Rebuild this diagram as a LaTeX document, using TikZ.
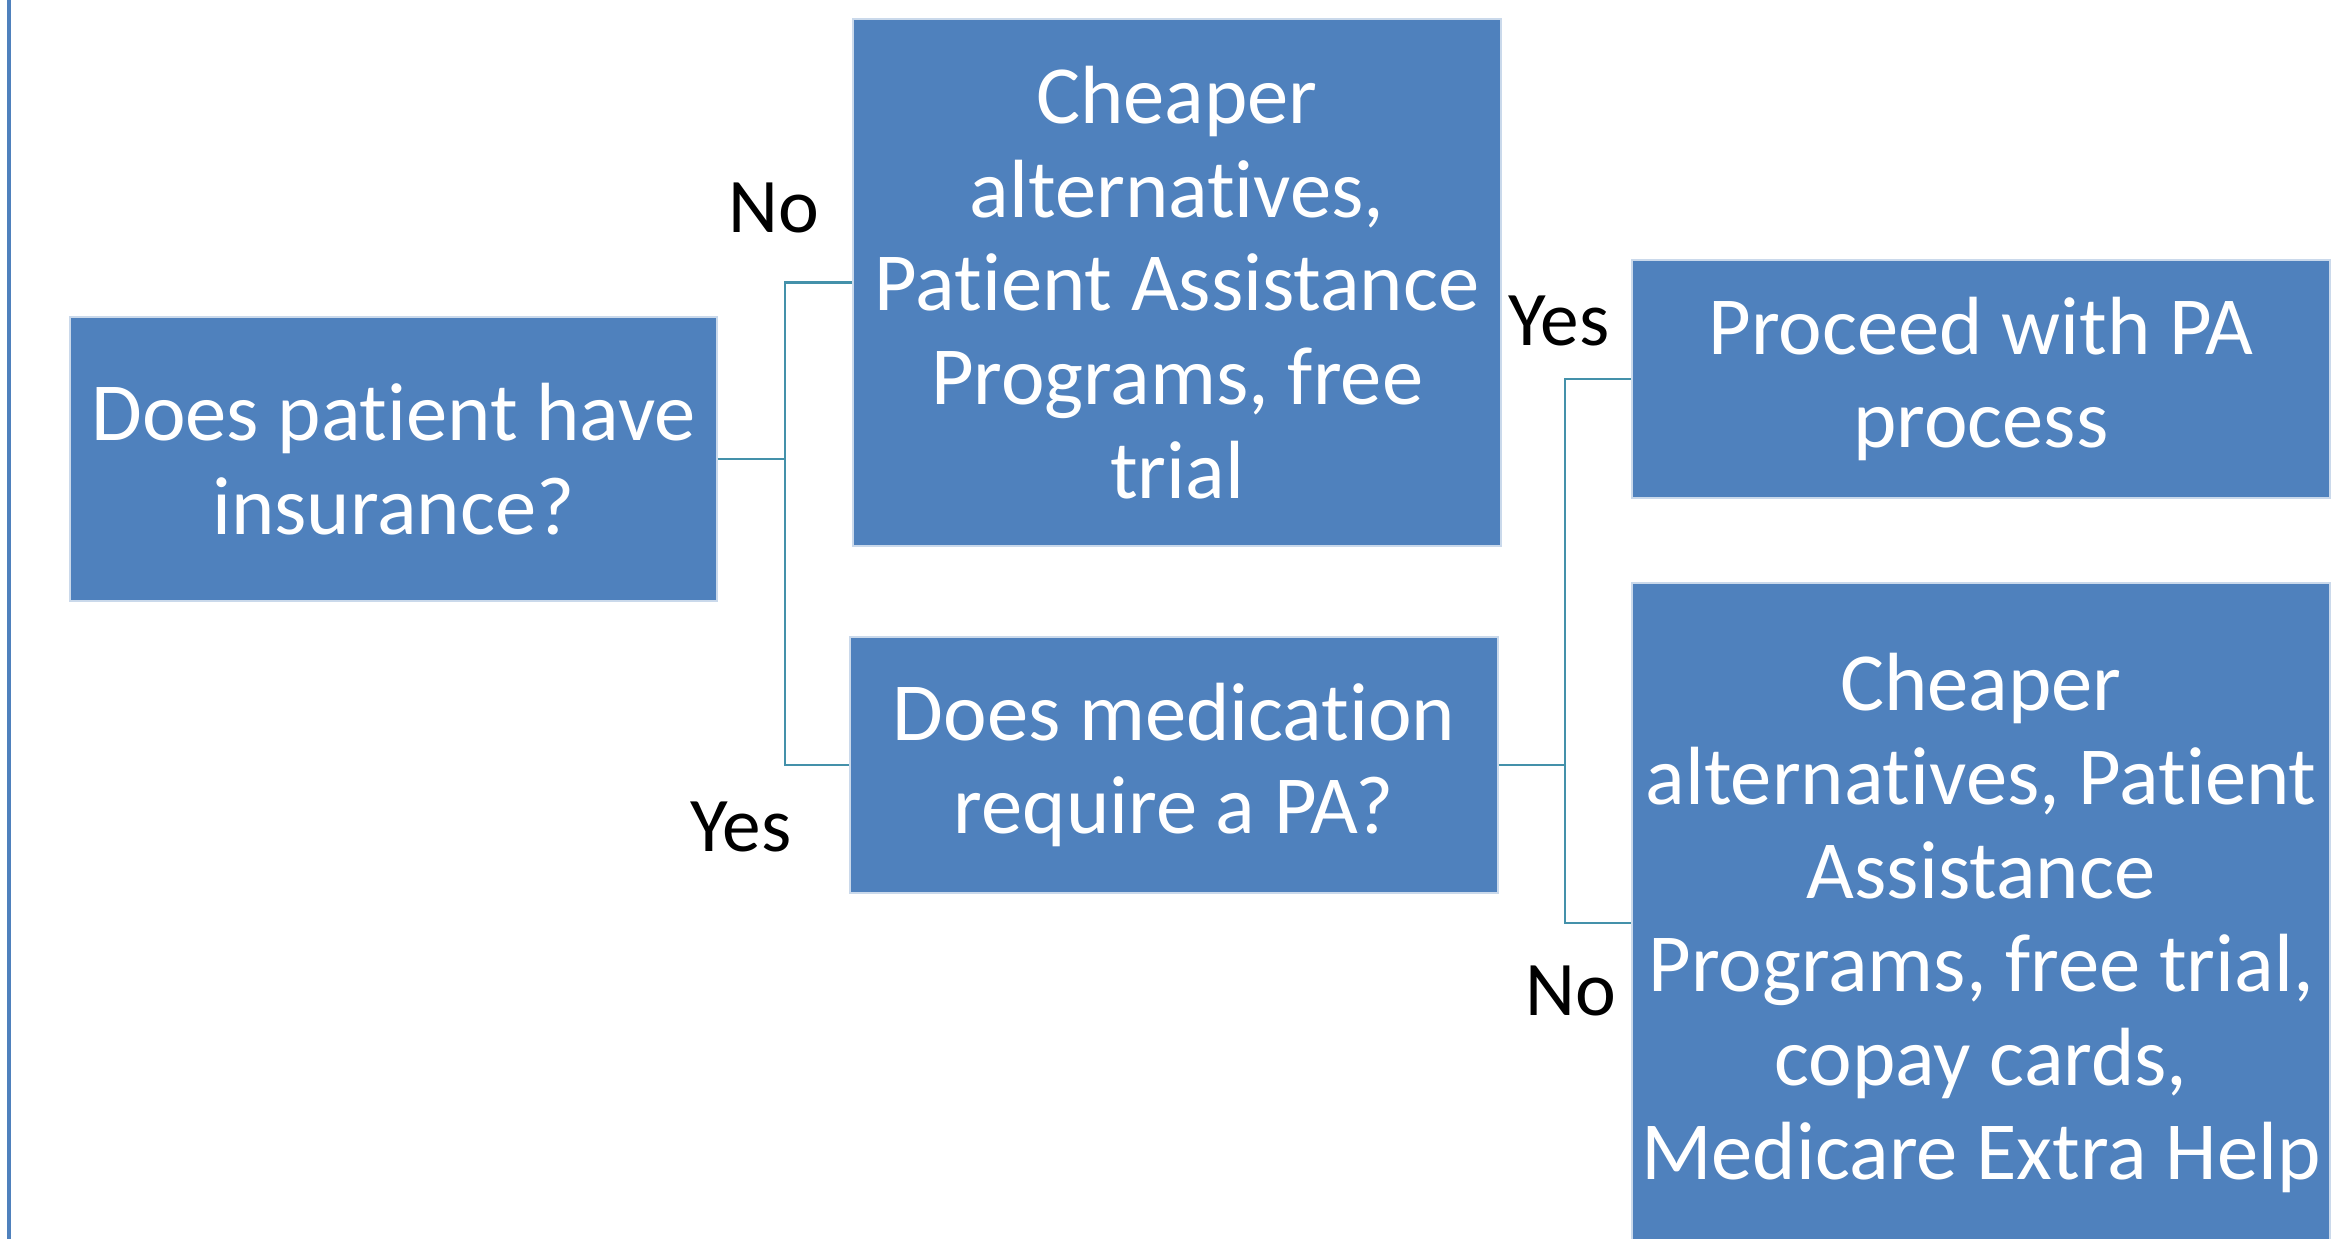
\documentclass[tikz,border=0pt]{standalone}
\usepackage{fontspec}
\setmainfont{Carlito}[RawFeature={-liga;-clig;-calt;-dlig}]
\usetikzlibrary{positioning}
\definecolor{boxblue}{RGB}{79,129,189}
\definecolor{linkteal}{RGB}{68,145,170}

\begin{document}
\begin{tikzpicture}

\tikzset{decision/.style = {shape=rectangle, fill=boxblue, draw=white!70!boxblue, line width=0.4pt, text=white, align=center, inner sep=0pt, font=\fontsize{23.5}{26.7}\selectfont}}
\tikzset{edge/.style = {draw=linkteal, line width=0.8pt}}
\tikzset{answer/.style = {font=\fontsize{22}{26}\selectfont, inner sep=0pt}}

\useasboundingbox (0,0) rectangle (23.33,-12.39);
% frame line on the left
\draw[boxblue, line width=1.4pt] (0.09,0) -- (0.09,-12.39);

% vertices
\node[decision, minimum width=6.47cm, minimum height=2.84cm] (insur) at (3.935,-4.59) {Does patient have\\insurance?};
\node[decision, minimum width=6.48cm, minimum height=5.27cm] (cheap) at (11.77,-2.825) {Cheaper\\alternatives,\\Patient Assistance\\Programs, free\\trial};
\node[decision, minimum width=6.48cm, minimum height=2.56cm] (medpa) at (11.74,-7.65) {Does medication\\require a PA?};
\node[decision, minimum width=6.98cm, minimum height=2.38cm] (proceed) at (19.81,-3.79) {Proceed with PA\\process};
\node[decision, minimum width=6.98cm, minimum height=6.80cm] (assist) at (19.81,-9.23) {Cheaper\\alternatives, Patient\\Assistance\\Programs, free trial,\\copay cards,\\Medicare Extra Help};

% joints
\coordinate (j1) at (7.85,-4.59);
\coordinate (j2) at (15.65,-7.65);

%edges
\draw[edge] (insur.east) -- (j1) |- (cheap.west);
\draw[edge] (j1) |- (medpa.west);
\draw[edge] (medpa.east) -- (j2) |- (proceed.west);
\draw[edge] (j2) |- (assist.west);

% answers
\node[answer] (no1) at (7.74,-2.08) {No};
\node[answer] (yes1) at (7.41,-8.27) {Yes};
\node[answer] (yes2) at (15.59,-3.21) {Yes};
\node[answer] (no2) at (15.71,-9.91) {No};
\end{tikzpicture}
\end{document}
